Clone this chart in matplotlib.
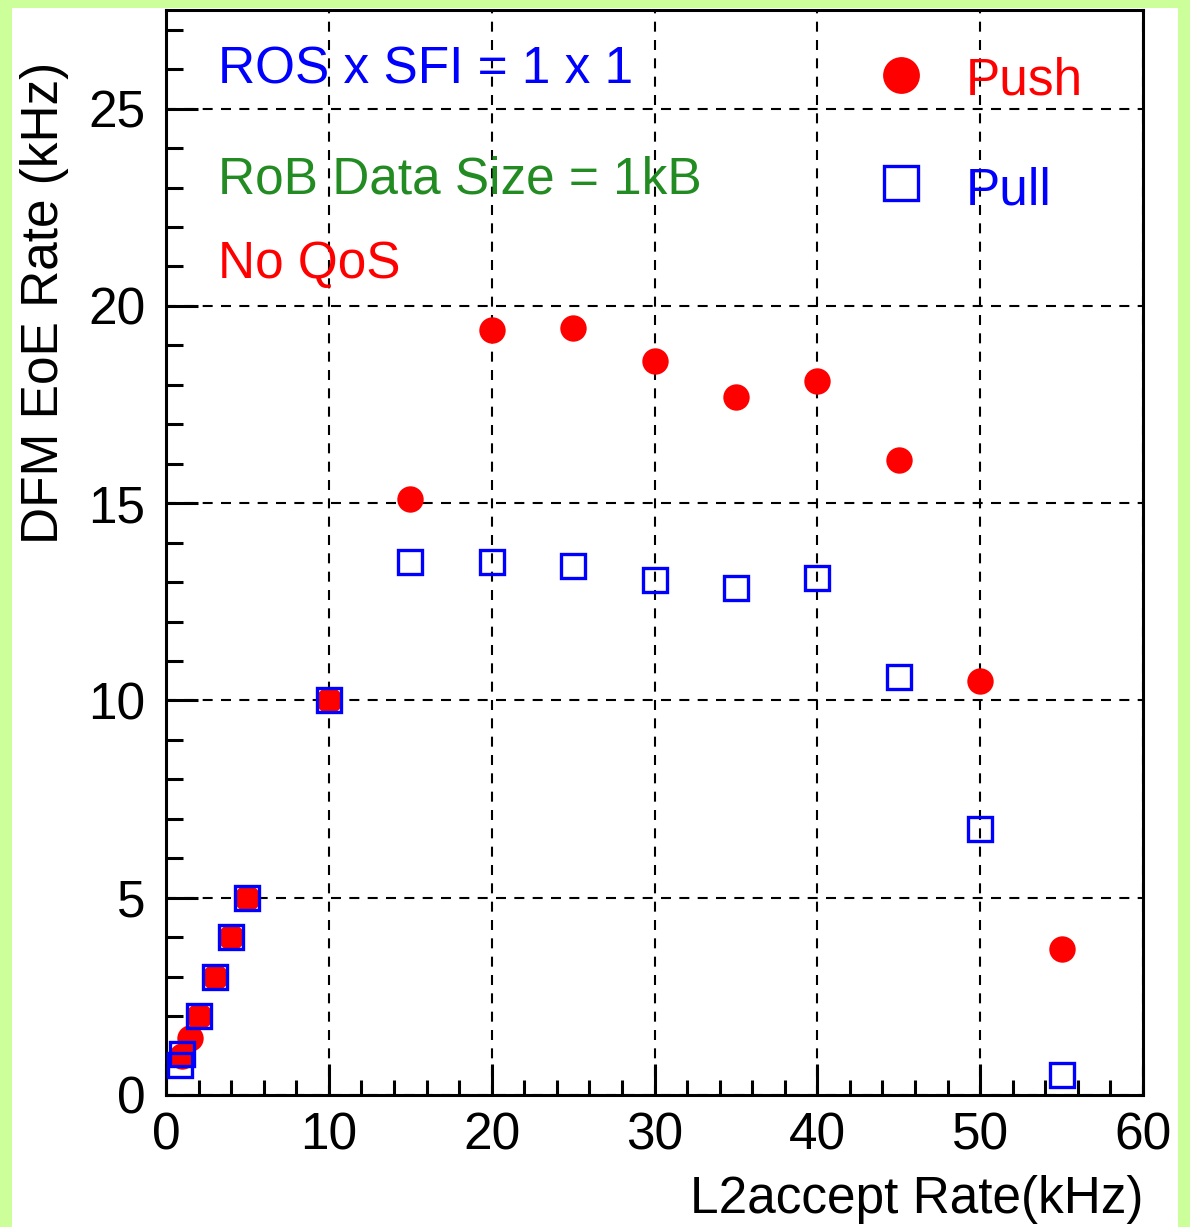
import matplotlib
matplotlib.use("Agg")
import matplotlib.pyplot as plt
from matplotlib.patches import Rectangle

plt.rcParams['font.family'] = ['Liberation Sans', 'DejaVu Sans']

# measured rates (kHz)
push_x = [1, 1.5, 2, 3, 4, 5, 10, 15, 20, 25, 30, 35, 40, 45, 50, 55]
push_y = [1.0, 1.45, 2.0, 3.0, 4.0, 5.0, 10.0, 15.1, 19.4, 19.45, 18.6, 17.7, 18.1, 16.1, 10.5, 3.7]

pull_x = [0.85, 1, 2, 3, 4, 5, 10, 15, 20, 25, 30, 35, 40, 45, 50, 55]
pull_y = [0.75, 1.05, 2.0, 3.0, 4.0, 5.0, 10.0, 13.5, 13.5, 13.4, 13.05, 12.85, 13.1, 10.6, 6.75, 0.5]

x_ticks = [0, 10, 20, 30, 40, 50, 60]
y_ticks = [0, 5, 10, 15, 20, 25]

FS = 37
W, H = 1190, 1227
fig = plt.figure(figsize=(W / 100, H / 100), dpi=100, facecolor='#ccff99')
# white pad inside the green frame
fig.patches.append(Rectangle((12 / W, 0), 1166 / W, (H - 7.5) / H,
                             transform=fig.transFigure, facecolor='white',
                             edgecolor='none', zorder=-10))

ax = fig.add_axes([166 / W, (H - 1095) / H, 977 / W, 1085 / H])
ax.set_zorder(1)
ax.set_xlim(0, 60)
ax.set_ylim(0, 27.5)

# grid
ax.set_axisbelow(True)
ax.grid(True, color='black', linewidth=1.5, linestyle=(0, (4.8, 4)))

ax.plot(push_x, push_y, 'o', color='red', markersize=19, markeredgewidth=0,
        zorder=3)
ax.plot(pull_x, pull_y, 's', markerfacecolor='none', markeredgecolor='blue',
        markersize=17, markeredgewidth=2.4, zorder=4)

# axes styling
for s in ax.spines.values():
    s.set_linewidth(2.2)
ax.set_xticks(x_ticks)
ax.set_yticks(y_ticks)
ax.set_xticks(range(0, 61, 2), minor=True)
ax.set_yticks(range(0, 28, 1), minor=True)
ax.tick_params(which='both', direction='in', width=2.2, labelsize=FS,
               top=False, right=False)
ax.tick_params(axis='x', which='major', length=22, pad=12)
ax.tick_params(axis='x', which='minor', length=11)
ax.tick_params(axis='y', which='major', length=23, pad=15)
ax.tick_params(axis='y', which='minor', length=12)

# axis titles
fig.text(45 / W, (H - 62) / H, 'DFM EoE Rate (kHz)', rotation=90,
         ha='center', va='top', fontsize=FS)
fig.text(1143 / W, (H - 1213) / H, 'L2accept Rate(kHz)', ha='right',
         va='baseline', fontsize=FS)

# run conditions
ax.text(0.053, 0.9327, 'ROS x SFI = 1 x 1', color='blue', fontsize=FS,
        transform=ax.transAxes, va='baseline')
ax.text(0.053, 0.8313, 'RoB Data Size = 1kB', color='#228B22', fontsize=FS,
        transform=ax.transAxes, va='baseline')
ax.text(0.053, 0.7530, 'No QoS', color='red', fontsize=FS,
        transform=ax.transAxes, va='baseline')

# legend
ax.plot([0.7523], [0.9401], 'o', color='red', markersize=26.5,
        markeredgewidth=0, transform=ax.transAxes, clip_on=False, zorder=5)
ax.plot([0.7523], [0.8410], 's', markerfacecolor='none',
        markeredgecolor='blue', markersize=25, markeredgewidth=2.4,
        transform=ax.transAxes, clip_on=False, zorder=5)
ax.text(0.819, 0.9217, 'Push', color='red', fontsize=FS,
        transform=ax.transAxes, va='baseline')
ax.text(0.819, 0.8203, 'Pull', color='blue', fontsize=FS,
        transform=ax.transAxes, va='baseline')

fig.savefig('out.png', dpi=100, facecolor=fig.get_facecolor())
